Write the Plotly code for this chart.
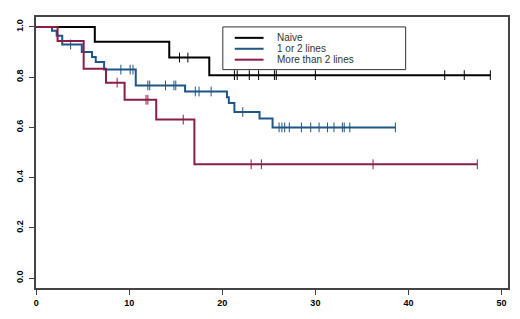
import plotly.graph_objects as go

# ---- data ----
group_names = ["Naive", "1 or 2 lines", "More than 2 lines"]

naive_times = [0, 6.3, 14.3, 18.6, 48.8]
naive_surv = [1.0, 0.941, 0.878, 0.808, 0.808]
naive_censor = [15.4, 16.3, 21.3, 21.6, 22.9, 23.9, 25.6, 25.8, 30.0, 43.9, 46.0, 48.8]

lines12_times = [0, 1.7, 2.2, 2.8, 4.9, 6.0, 6.4, 7.3, 10.7, 16.0, 20.5, 20.7, 21.3, 24.0, 25.4, 38.6]
lines12_surv = [1.0, 0.985, 0.965, 0.93, 0.90, 0.88, 0.86, 0.83, 0.767, 0.743, 0.72, 0.697, 0.661, 0.635, 0.60, 0.60]
lines12_censor = [3.7, 9.1, 10.1, 10.4, 12.0, 12.2, 13.9, 14.8, 15.0, 17.1, 17.5, 18.8, 22.2,
                  26.1, 26.4, 26.7, 27.2, 28.5, 29.5, 30.4, 31.3, 32.0, 32.9, 33.1, 33.7, 38.6]

more2_times = [0, 2.3, 5.1, 7.5, 9.5, 12.9, 17.0, 47.4]
more2_surv = [1.0, 0.944, 0.833, 0.778, 0.71, 0.631, 0.453, 0.453]
more2_censor = [8.7, 11.8, 12.0, 15.8, 23.1, 24.2, 36.2, 47.4]

x_ticks = [0, 10, 20, 30, 40, 50]
y_ticks = [0.0, 0.2, 0.4, 0.6, 0.8, 1.0]
y_tick_labels = ["0.0", "0.2", "0.4", "0.6", "0.8", "1.0"]

colors = ["#000000", "#1f5688", "#8c1c48"]

groups = [
    (naive_times, naive_surv, naive_censor),
    (lines12_times, lines12_surv, lines12_censor),
    (more2_times, more2_surv, more2_censor),
]


def surv_at(times, surv, t):
    val = surv[0]
    for ti, si in zip(times, surv):
        if ti <= t:
            val = si
    return val


fig = go.Figure()
for (times, surv, cens), name, col in zip(groups, group_names, colors):
    fig.add_trace(go.Scatter(x=times, y=surv, mode="lines", line_shape="hv",
                             line=dict(color=col, width=2), name=name,
                             showlegend=False, hoverinfo="skip"))
    fig.add_trace(go.Scatter(x=cens, y=[surv_at(times, surv, c) for c in cens],
                             mode="markers",
                             marker=dict(symbol="line-ns", size=7,
                                         line=dict(color=col, width=1)),
                             showlegend=False, hoverinfo="skip"))

# ---- layout in page pixels (page body has an 8px default margin) ----
OFF = 8
PAGE_W, PAGE_H = 520, 319
L, R, T, B = 33, 508, 15, 288   # plot box in page pixels
W, H = PAGE_W - OFF, PAGE_H - OFF


def px(x):
    return (x - L) / (R - L)


def py(y):
    return (B - y) / (B - T)


shapes = [dict(type="rect", xref="paper", yref="paper",
               x0=px(221), x1=px(405), y0=py(68), y1=py(25),
               line=dict(color="#333333", width=1), fillcolor="white", layer="below")]
annotations = []
rows = [36, 47, 58]
for name, col, ry in zip(group_names, colors, rows):
    shapes.append(dict(type="line", xref="paper", yref="paper",
                       x0=px(233), x1=px(262), y0=py(ry), y1=py(ry),
                       line=dict(color=col, width=2)))
    annotations.append(dict(xref="paper", yref="paper", x=px(274), y=py(ry),
                            text=name, showarrow=False, xanchor="left", yanchor="middle",
                            font=dict(family="Liberation Sans, Arial", size=10, color="#333333")))

fig.update_layout(
    width=W, height=H,
    margin=dict(l=L - OFF, r=PAGE_W - R, t=T - OFF, b=PAGE_H - B),
    paper_bgcolor="white", plot_bgcolor="white",
    shapes=shapes, annotations=annotations,
    showlegend=False,
)
fig.update_xaxes(range=[-0.02, 50.7], tickvals=x_ticks, ticks="outside", ticklen=5,
                 tickcolor="#444444", showgrid=False, zeroline=False,
                 showline=True, mirror=True, linecolor="#444444", linewidth=1.5,
                 tickfont=dict(family="Liberation Sans, Arial", size=9, color="#000000", weight=700))
fig.update_yaxes(range=[-0.0395, 1.0395], tickvals=y_ticks, ticktext=y_tick_labels,
                 ticks="outside", ticklen=5, tickangle=-90, ticklabelstandoff=3,
                 tickcolor="#444444", showgrid=False, zeroline=False,
                 showline=True, mirror=True, linecolor="#444444", linewidth=1.5,
                 tickfont=dict(family="Liberation Sans, Arial", size=9, color="#000000", weight=700))

fig.write_html("out.html")
